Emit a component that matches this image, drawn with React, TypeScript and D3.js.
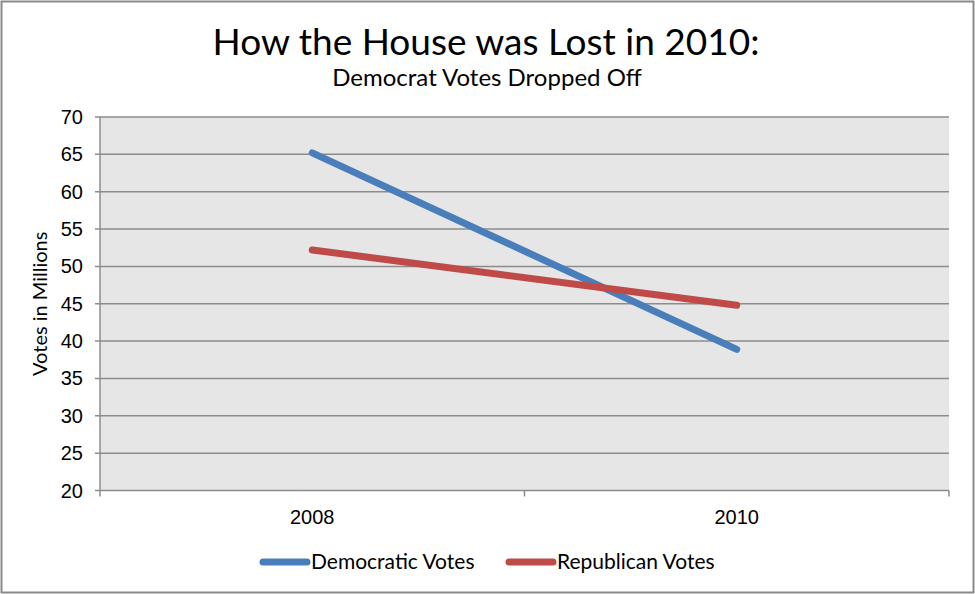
import { useEffect } from "react";
import * as d3 from "d3";

// chart data
const years = ["2008", "2010"];
const democraticVotes = [65.2, 38.9];
const republicanVotes = [52.2, 44.8];
const yTicks = [20, 25, 30, 35, 40, 45, 50, 55, 60, 65, 70];

const seriesList = [
  { name: "Democratic Votes", values: democraticVotes, color: "#4a7ebb" },
  { name: "Republican Votes", values: republicanVotes, color: "#be4b48" },
];

const W = 975;
const H = 594;
const left = 100;
const right = 949;
const top = 117;
const bottom = 490.5;

const App = () => {
  useEffect(() => {
    document.body.style.margin = "0";
  }, []);

  const x = d3.scalePoint<string>().domain(years).range([left, right]).padding(0.5);
  const y = d3.scaleLinear().domain([20, 70]).range([bottom, top]);
  const step = x.step();
  // category boundaries for the x ticks
  const xBounds = d3.range(years.length + 1).map((i) => left + i * step);

  const line = d3
    .line<number>()
    .x((_, i) => x(years[i]) as number)
    .y((d) => y(d));

  const tickFont = "'Liberation Sans', Arial, sans-serif";
  const textFont = "Lato, 'Noto Sans', sans-serif";

  return (
    <svg width={W} height={H} style={{ display: "block" }}>
      <rect x={0} y={0} width={W} height={H} fill="#fff" />
      <rect x={1.5} y={1.5} width={W - 3} height={H - 3} fill="none" stroke="#8a8a8a" strokeWidth={2} />

      {/* titles */}
      <text x={486} y={55} textAnchor="middle" fontFamily={textFont} fontSize={37} fill="#000">
        How the House was Lost in 2010:
      </text>
      <text x={487} y={86} textAnchor="middle" fontFamily={textFont} fontSize={24} fill="#000">
        Democrat Votes Dropped Off
      </text>

      {/* plot background */}
      <rect x={left} y={top} width={right - left} height={bottom - top} fill="#e6e6e6" />

      {/* grid lines */}
      {yTicks.slice(1).map((t) => (
        <line key={t} x1={left - 5} x2={right} y1={y(t)} y2={y(t)} stroke="#8c8c8c" strokeWidth={1.5} />
      ))}

      {/* y axis */}
      <line x1={left} x2={left} y1={top} y2={bottom} stroke="#8c8c8c" strokeWidth={1.5} />
      <line x1={left - 5} x2={left} y1={bottom} y2={bottom} stroke="#8c8c8c" strokeWidth={1.5} />
      {yTicks.map((t) => (
        <text key={t} x={83} y={y(t)} dy="0.35em" textAnchor="end" fontFamily={tickFont} fontSize={20} fill="#000">
          {t}
        </text>
      ))}
      <text
        transform={`translate(47,${(top + bottom) / 2}) rotate(-90)`}
        textAnchor="middle"
        fontFamily={textFont}
        fontSize={20}
        fill="#000"
      >
        Votes in Millions
      </text>

      {/* x axis */}
      <line x1={left} x2={right} y1={bottom} y2={bottom} stroke="#8c8c8c" strokeWidth={1.5} />
      {xBounds.map((b, i) => (
        <line key={i} x1={b} x2={b} y1={bottom} y2={bottom + 6} stroke="#8c8c8c" strokeWidth={1.5} />
      ))}
      {years.map((yr) => (
        <text key={yr} x={x(yr)} y={524} textAnchor="middle" fontFamily={tickFont} fontSize={20} fill="#000">
          {yr}
        </text>
      ))}

      {/* series */}
      {seriesList.map((s) => (
        <path
          key={s.name}
          d={line(s.values) || ""}
          fill="none"
          stroke={s.color}
          strokeWidth={7}
          strokeLinecap="round"
        />
      ))}

      {/* legend */}
      {seriesList.map((s, i) => {
        const lx = 263 + i * 246;
        return (
          <g key={s.name}>
            <line x1={lx} x2={lx + 44} y1={562} y2={562} stroke={s.color} strokeWidth={7} strokeLinecap="round" />
            <text x={lx + 48} y={569} fontFamily={textFont} fontSize={21} fill="#000">
              {s.name}
            </text>
          </g>
        );
      })}
    </svg>
  );
};

export default App;
